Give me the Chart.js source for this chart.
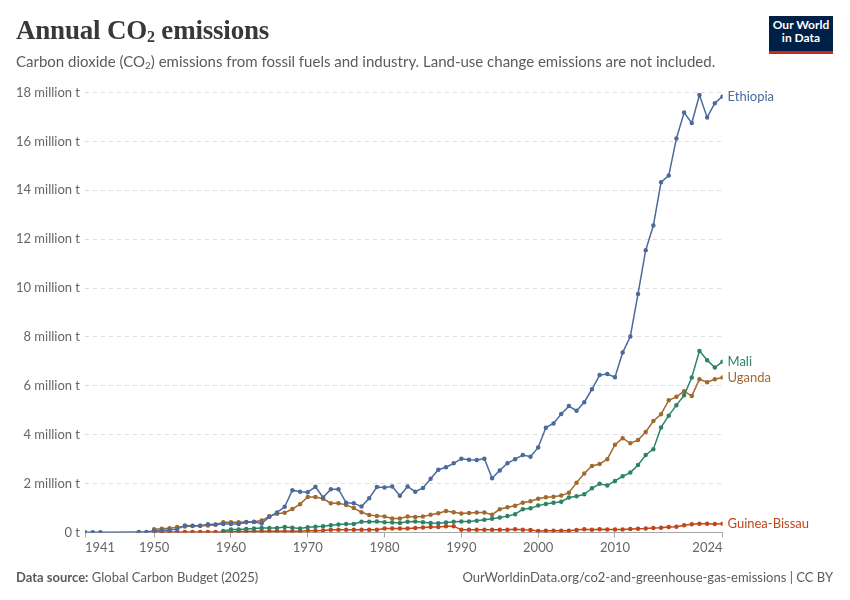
<!DOCTYPE html>
<html>
<head>
<meta charset="utf-8">
<script src="https://cdn.jsdelivr.net/npm/chart.js@4"></script>
<style>
  body { margin: 0; background: #fff; }
  #wrap { position: relative; width: 850px; height: 600px; font-family: Lato, "Noto Sans", sans-serif; }
  #chart { position: absolute; left: 0; top: 0; }
  .title { position: absolute; left: 16px; top: 14px; font-family: "Liberation Serif", "DejaVu Serif", serif; font-weight: 700; font-size: 27px; line-height: 32px; color: #383838; letter-spacing: -0.2px; }
  .subtitle { position: absolute; left: 16px; top: 51px; font-size: 15px; line-height: 20px; color: #5b5b5b; }
  .logo { position: absolute; left: 769px; top: 16px; width: 64px; height: 32px; background: #002147; border-bottom: 3px solid #ce261e; color: #fff; font-weight: 700; font-size: 12px; line-height: 12.5px; text-align: center; padding-top: 3px; box-sizing: content-box; }
  .footer { position: absolute; top: 568px; font-size: 13px; line-height: 18px; color: #5b5b5b; }
  .footer b { font-weight: 700; }
</style>
</head>
<body>
<div id="wrap">
  <canvas id="chart" width="850" height="600"></canvas>
  <div class="title">Annual CO<sub style="font-size:16px;vertical-align:-3px">2</sub> emissions</div>
  <div class="subtitle">Carbon dioxide (CO<sub style="font-size:10px;vertical-align:-2px">2</sub>) emissions from fossil fuels and industry. Land-use change emissions are not included.</div>
  <div class="logo">Our World<br>in Data</div>
  <div class="footer" style="left:16px"><b>Data source:</b> Global Carbon Budget (2025)</div>
  <div class="footer" style="right:17px">OurWorldinData.org/co2-and-greenhouse-gas-emissions | CC BY</div>
</div>
<script>
// years 1941..2024, values in million tonnes, null = no data
const years = [];
for (let y = 1941; y <= 2024; y++) years.push(y);

const xTicks = [1941, 1950, 1960, 1970, 1980, 1990, 2000, 2010, 2024];
const yTicks = [0, 2, 4, 6, 8, 10, 12, 14, 16, 18];

const ethiopia = [
  0.01, 0.01, 0.01, null, null, null, null, 0.02, 0.02,
  0.07, 0.08, 0.1, 0.14, 0.29, 0.28, 0.28, 0.34, 0.33, 0.35,
  0.35, 0.35, 0.42, 0.43, 0.37, 0.64, 0.82, 1.05, 1.73, 1.67,
  1.65, 1.87, 1.43, 1.77, 1.77, 1.22, 1.2, 1.06, 1.4, 1.86,
  1.84, 1.88, 1.5, 1.88, 1.67, 1.82, 2.2, 2.57, 2.67, 2.83,
  3.02, 2.98, 2.97, 3.02, 2.22, 2.54, 2.83, 3.0, 3.17, 3.1,
  3.48, 4.29, 4.46, 4.85, 5.17, 4.98, 5.33, 5.86, 6.44, 6.48,
  6.35, 7.36, 8.02, 9.76, 11.55, 12.56, 14.33, 14.6, 16.12, 17.18,
  16.75, 17.9, 16.98, 17.56, 17.84
];

const mali = [
  null, null, null, null, null, null, null, null, null,
  null, null, null, null, null, null, null, null, null, 0.06,
  0.12, 0.12, 0.14, 0.16, 0.18, 0.18, 0.18, 0.22, 0.19, 0.16,
  0.21, 0.24, 0.26, 0.3, 0.33, 0.35, 0.35, 0.44, 0.44, 0.45,
  0.42, 0.41, 0.39, 0.44, 0.45, 0.42, 0.39, 0.38, 0.41, 0.44,
  0.45, 0.45, 0.48, 0.52, 0.56, 0.61, 0.67, 0.75, 0.95, 0.99,
  1.1, 1.17, 1.22, 1.26, 1.43, 1.48, 1.56, 1.81, 1.99, 1.92,
  2.11, 2.3, 2.45, 2.76, 3.17, 3.41, 4.3, 4.78, 5.21, 5.61,
  6.34, 7.43, 7.05, 6.75, 6.99
];

const uganda = [
  null, null, null, null, null, null, null, null, null,
  0.13, 0.15, 0.17, 0.22, 0.25, 0.27, 0.28, 0.29, 0.32, 0.42,
  0.42, 0.42, 0.43, 0.44, 0.49, 0.66, 0.77, 0.81, 0.96, 1.16,
  1.45, 1.45, 1.38, 1.2, 1.2, 1.13, 1.0, 0.83, 0.72, 0.68,
  0.65, 0.57, 0.57, 0.65, 0.63, 0.65, 0.73, 0.79, 0.88, 0.83,
  0.78, 0.8, 0.82, 0.82, 0.73, 0.95, 1.03, 1.09, 1.22, 1.28,
  1.38, 1.44, 1.46, 1.51, 1.63, 2.04, 2.41, 2.72, 2.8, 3.0,
  3.59, 3.86, 3.65, 3.78, 4.11, 4.56, 4.84, 5.41, 5.55, 5.78,
  5.58, 6.27, 6.15, 6.27, 6.34
];

const guineaBissau = [
  null, null, null, null, null, null, null, null, null,
  0.02, 0.02, 0.02, 0.02, 0.02, 0.02, 0.02, 0.02, 0.02, 0.02,
  0.03, 0.04, 0.04, 0.05, 0.05, 0.05, 0.05, 0.05, 0.05, 0.05,
  0.07, 0.07, 0.08, 0.11, 0.11, 0.11, 0.11, 0.11, 0.11, 0.11,
  0.16, 0.16, 0.16, 0.16, 0.18, 0.2, 0.22, 0.23, 0.26, 0.26,
  0.11, 0.11, 0.11, 0.11, 0.11, 0.11, 0.11, 0.13, 0.11, 0.1,
  0.06, 0.07, 0.07, 0.07, 0.07, 0.1, 0.13, 0.11, 0.13, 0.12,
  0.12, 0.12, 0.14, 0.15, 0.16, 0.18, 0.19, 0.22, 0.24, 0.3,
  0.34, 0.36, 0.36, 0.35, 0.36
];

const series = [
  { label: "Ethiopia", data: ethiopia, color: "#4c6a9c" },
  { label: "Mali", data: mali, color: "#2c8465" },
  { label: "Uganda", data: uganda, color: "#a2692f" },
  { label: "Guinea-Bissau", data: guineaBissau, color: "#c0461b" },
];

// country name next to the last point of each line
const endLabels = {
  id: "endLabels",
  afterDatasetsDraw(chart) {
    const ctx = chart.ctx;
    ctx.save();
    ctx.font = "13px Lato";
    ctx.textBaseline = "middle";
    chart.data.datasets.forEach((ds, i) => {
      const pts = chart.getDatasetMeta(i).data;
      const last = pts[pts.length - 1];
      ctx.fillStyle = ds.borderColor;
      ctx.fillText(ds.label, last.x + 5, last.y);
    });
    ctx.restore();
  },
};

new Chart(document.getElementById("chart"), {
  type: "line",
  data: {
    datasets: series.map((s) => ({
      label: s.label,
      data: years.map((y, i) => ({ x: y, y: s.data[i] })),
      borderColor: s.color,
      backgroundColor: s.color,
      borderWidth: 1.5,
      pointRadius: 1.5,
      pointHoverRadius: 1.5,
      spanGaps: true,
      tension: 0,
    })),
  },
  options: {
    responsive: false,
    animation: false,
    layout: { padding: { left: 0, top: 92.5, right: 127.5, bottom: 38.5 } },
    plugins: { legend: { display: false }, tooltip: { enabled: false } },
    scales: {
      x: {
        type: "linear",
        min: 1941,
        max: 2024,
        afterBuildTicks: (scale) => {
          scale.ticks = xTicks.map((v) => ({ value: v }));
        },
        afterFit: (scale) => { scale.height = 29; },
        grid: { drawOnChartArea: false, drawTicks: true, tickLength: 5, color: "#a6a6a6" },
        border: { display: true, color: "#a6a6a6" },
        ticks: {
          align: "inner",
          autoSkip: false,
          maxRotation: 0,
          padding: 3,
          color: "#666",
          font: { family: "Lato", size: 13 },
          callback: (v) => String(v),
        },
      },
      y: {
        min: 0,
        max: 18,
        afterBuildTicks: (scale) => {
          scale.ticks = yTicks.map((v) => ({ value: v }));
        },
        afterFit: (scale) => { scale.width = 85; },
        grid: { drawTicks: false, color: "#dddddd" },
        border: { display: false, dash: [4, 4] },
        ticks: {
          padding: 5,
          color: "#666",
          font: { family: "Lato", size: 13 },
          callback: (v) => (v === 0 ? "0 t" : v + " million t"),
        },
      },
    },
  },
  plugins: [endLabels],
});
</script>
</body>
</html>
